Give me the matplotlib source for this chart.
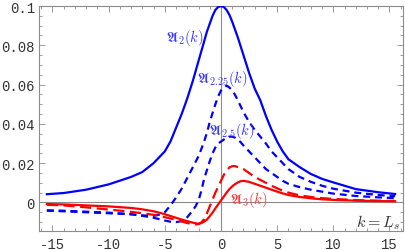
import matplotlib
matplotlib.use("Agg")
import matplotlib.pyplot as plt
from matplotlib.ticker import FixedLocator, MultipleLocator

plt.rcParams['mathtext.fontset'] = 'cm'
plt.rcParams['lines.scale_dashes'] = False

# ---- data ----
k = [-15.5, -14, -12, -10, -8, -7, -6, -5.5, -5, -4.5, -4, -3.5, -3, -2.5, -2.25, -2,
     -1.75, -1.5, -1.25, -1, -0.75, -0.5, -0.25, 0, 0.25, 0.5, 0.75, 1, 1.25, 1.5, 1.75,
     2, 2.5, 3, 3.5, 4, 4.5, 5, 5.5, 6, 7, 8, 9, 10, 12, 14, 15.5]

A2 = [0.0042, 0.0048, 0.0065, 0.0092, 0.013, 0.0155, 0.020, 0.023, 0.026, 0.031, 0.038,
      0.045, 0.053, 0.062, 0.067, 0.072, 0.077, 0.082, 0.087, 0.091, 0.095, 0.098,
      0.0995, 0.1, 0.0995, 0.098, 0.0955, 0.092, 0.088, 0.084, 0.0795, 0.075,
      0.066, 0.058, 0.052, 0.044, 0.037, 0.031, 0.026, 0.022, 0.018, 0.0145, 0.012,
      0.0102, 0.0068, 0.0052, 0.0043]

A225 = [-0.0042, -0.0045, -0.005, -0.0055, -0.006, -0.0066, -0.0068, -0.0062, -0.005,
        -0.0015, 0.0025, 0.007, 0.0125, 0.018, 0.0208, 0.0235, 0.0272, 0.031, 0.0355,
        0.041, 0.0455, 0.050, 0.054, 0.057, 0.0585, 0.0595, 0.0585, 0.057, 0.0548, 0.052,
        0.049, 0.046, 0.041, 0.037, 0.0335, 0.030, 0.026, 0.023, 0.020, 0.017,
        0.013, 0.0105, 0.0085, 0.007, 0.005, 0.0038, 0.0032]

A25 = [-0.004, -0.0042, -0.0047, -0.0052, -0.006, -0.0068, -0.0078, -0.0085, -0.0092,
       -0.0098, -0.0100, -0.0095, -0.0075, -0.004, -0.0018, 0.001, 0.006, 0.012, 0.0165,
       0.021, 0.025, 0.028, 0.030, 0.031, 0.032, 0.033, 0.0335, 0.0335, 0.033, 0.032,
       0.0307, 0.029, 0.026, 0.023, 0.020, 0.017, 0.015, 0.013, 0.011,
       0.0095, 0.0078, 0.0065, 0.0055, 0.0045, 0.0033, 0.0026, 0.0022]

A275 = [-0.0012, -0.0015, -0.0025, -0.0036, -0.0048, -0.0055, -0.0063, -0.0069, -0.0075,
        -0.0082, -0.0088, -0.0097, -0.0105, -0.011, -0.0112, -0.011, -0.0102, -0.0085,
        -0.0055, -0.002, 0.0015, 0.005, 0.008, 0.011, 0.014, 0.0163, 0.0178, 0.0185,
        0.0185, 0.018, 0.0176, 0.017, 0.015, 0.013, 0.0115, 0.010, 0.0085, 0.0072, 0.006,
        0.005, 0.0036, 0.0028, 0.0022, 0.0018, 0.0012, 0.0009, 0.0008]

A3 = [-0.0008, -0.001, -0.0015, -0.002, -0.0028, -0.0035, -0.0045, -0.0052, -0.006,
      -0.0069, -0.0078, -0.0087, -0.0095, -0.0103, -0.0106, -0.0108, -0.0105, -0.0098,
      -0.0087, -0.007, -0.0052, -0.003, -0.001, 0.001, 0.003, 0.005, 0.0068, 0.0082,
      0.0093, 0.0102, 0.0108, 0.011, 0.0105, 0.0095, 0.0085, 0.0075, 0.0065,
      0.0055, 0.0046, 0.0038, 0.0028, 0.0021, 0.0016, 0.0013, 0.0009, 0.0007, 0.0006]

xticks = [-15, -10, -5, 0, 5, 10, 15]
xticklabels = ["-15", "-10", "-5", "0", "5", "10", "15"]
yticks = [0, 0.02, 0.04, 0.06, 0.08, 0.1]
yticklabels = ["0", "0.02", "0.04", "0.06", "0.08", "0.1"]

labels = [r'$\mathfrak{A}_2(k)$', r'$\mathfrak{A}_{2.25}(k)$',
          r'$\mathfrak{A}_{2.5}(k)$', r'$\mathfrak{A}_3(k)$']

# ---- figure ----
fig = plt.figure(figsize=(4.05, 2.51), dpi=100)
ax = fig.add_axes([0.0963, 0.0757, 0.8987, 0.8963])
ax.set_xlim(-16.2, 16.2)
ax.set_ylim(-0.01453, 0.1)

gray = '#8c8c8c'
ax.axhline(0, color=gray, lw=0.8, zorder=1)
ax.axvline(0, color=gray, lw=0.8, zorder=1)

blue = '#0000ff'
red = '#ff0000'
lw = 1.6
ax.plot(k, A2, color=blue, lw=lw, zorder=3)
ax.plot(k, A225, color=blue, lw=lw, dashes=(5, 3.5), zorder=3)
ax.plot(k, A25, color=blue, lw=lw, dashes=(5, 3.5), zorder=3)
ax.plot(k, A275, color=red, lw=lw, dashes=(8, 4), zorder=3)
ax.plot(k, A3, color=red, lw=lw, zorder=3)

lblue = '#3a3aff'
lred = '#ff3a3a'
fs = 10.5
ax.text(-4.9, 0.0843, labels[0], color=lblue, fontsize=fs, va='center', ha='left', zorder=4)
ax.text(-2.1, 0.0635, labels[1], color=lblue, fontsize=fs, va='center', ha='left', zorder=4)
ax.text(-1.1, 0.037, labels[2], color=lblue, fontsize=fs, va='center', ha='left', zorder=4)
ax.text(0.8, 0.0018, labels[3], color=lred, fontsize=fs, va='center', ha='left', zorder=4)
ax.text(15.9, -0.0098, r'$k=L_s$', color='#333333', fontsize=11.5, va='center', ha='right', zorder=4)

for s in ax.spines.values():
    s.set_color(gray)
    s.set_linewidth(0.8)

ax.xaxis.set_major_locator(FixedLocator(xticks))
ax.set_xticklabels(xticklabels)
ax.yaxis.set_major_locator(FixedLocator(yticks))
ax.set_yticklabels(yticklabels)
ax.xaxis.set_minor_locator(MultipleLocator(1))
ax.yaxis.set_minor_locator(MultipleLocator(0.005))
ax.tick_params(which='both', direction='in', top=True, right=True, color=gray, width=0.6)
ax.tick_params(which='major', length=4)
ax.tick_params(which='minor', length=2)
ax.tick_params(axis='x', which='major', pad=4)
ax.tick_params(axis='y', which='major', pad=3)
for lab in ax.get_xticklabels() + ax.get_yticklabels():
    lab.set_fontfamily('Liberation Mono')
    lab.set_fontsize(10)
    lab.set_color('#333333')

fig.savefig('out.png', dpi=100)
